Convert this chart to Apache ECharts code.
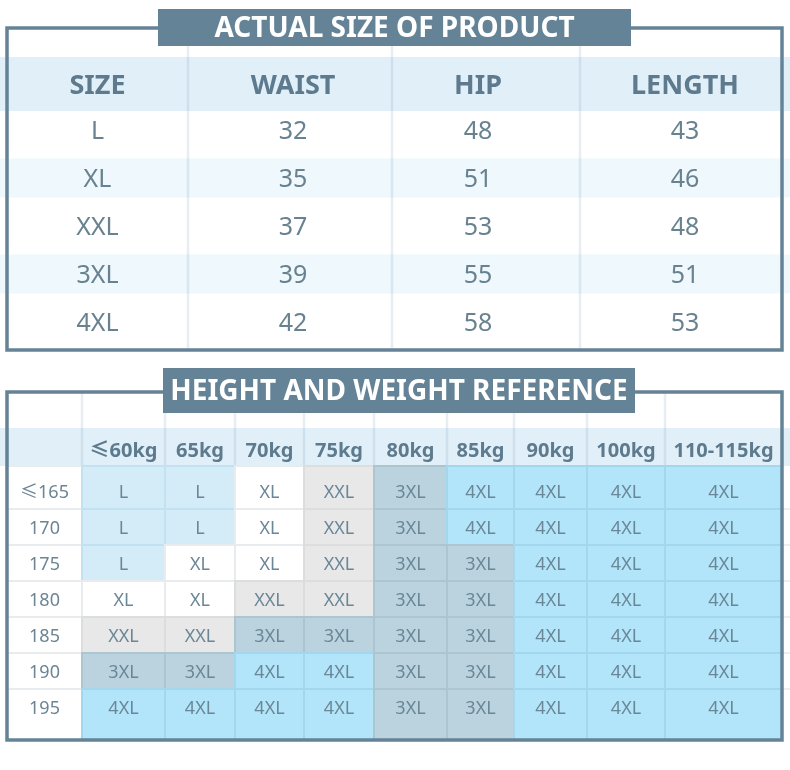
<!DOCTYPE html>
<html>
<head>
<meta charset="utf-8">
<script src="https://cdn.jsdelivr.net/npm/echarts/dist/echarts.min.js"></script>
<style>
  html, body { margin: 0; padding: 0; background: #fff; }
  #main { width: 790px; height: 770px; }
</style>
</head>
<body>
<div id="main"></div>
<script>
// ---- data ----
var sizeLabels = ['L', 'XL', 'XXL', '3XL', '4XL'];
var measureHeaders = ['SIZE', 'WAIST', 'HIP', 'LENGTH'];
var waistValues = [32, 35, 37, 39, 42];
var hipValues = [48, 51, 53, 55, 58];
var lengthValues = [43, 46, 48, 51, 53];

var weightLabels = ['≤60kg', '65kg', '70kg', '75kg', '80kg', '85kg', '90kg', '100kg', '110-115kg'];
var heightLabels = ['≤165', '170', '175', '180', '185', '190', '195'];
var sizeByHeight = [
  ['L', 'L', 'XL', 'XXL', '3XL', '4XL', '4XL', '4XL', '4XL'],
  ['L', 'L', 'XL', 'XXL', '3XL', '4XL', '4XL', '4XL', '4XL'],
  ['L', 'XL', 'XL', 'XXL', '3XL', '3XL', '4XL', '4XL', '4XL'],
  ['XL', 'XL', 'XXL', 'XXL', '3XL', '3XL', '4XL', '4XL', '4XL'],
  ['XXL', 'XXL', '3XL', '3XL', '3XL', '3XL', '4XL', '4XL', '4XL'],
  ['3XL', '3XL', '4XL', '4XL', '3XL', '3XL', '4XL', '4XL', '4XL'],
  ['4XL', '4XL', '4XL', '4XL', '3XL', '3XL', '4XL', '4XL', '4XL']
];

// ---- layout / style ----
var FONT = '"Noto Sans", "Noto Sans CJK SC", sans-serif';
var FRAME = '#658396';
var HEAD_COLOR = '#5d7a8e';
var TEXT_COLOR = '#68828f';
var TEXT_DY = 2;
var topColWidths = [181, 204, 188, 202];
var topTextShift = [0, 3, -8, 4];
var bottomColWidths = [75, 83, 70, 69, 70, 73, 67, 73, 78, 117];

// size -> [fill, line]
var cellStyle = {
  'L': ['#d4ecf8', '#c2e1f1'],
  'XL': ['#ffffff', '#e9ecee'],
  'XXL': ['#e8e8e8', '#dcdddd'],
  '3XL': ['#bbd3de', '#abc5d1'],
  '4XL': ['#b3e5fa', '#a3d7ee']
};

function edgesOf(widths) {
  var e = [0];
  for (var i = 0; i < widths.length; i++) {
    e.push(e[i] + widths[i]);
  }
  return e;
}
function mid(edges, i) {
  return (edges[i] + edges[i + 1]) / 2;
}

var topEdges = edgesOf(topColWidths);
var bottomEdges = edgesOf(bottomColWidths);

// row units: top table pitch 48px, bottom 36px
var topY = { min: -2.125, max: 4.583, headTop: -1.521, headBottom: -0.396, headText: -0.958, stripe: 0.406 };
var botY = { min: -2.75, max: 6.917, headTop: -1.75, headBottom: -0.694, headText: -1.167 };

// ---- items built from data ----
var topBands = [[topY.headTop, topY.headBottom, '#e1f0f8']];
[1, 3].forEach(function (r) {
  topBands.push([r - topY.stripe, r + topY.stripe, '#eef8fd']);
});

var topTexts = [];
measureHeaders.forEach(function (h, c) {
  topTexts.push({ x: mid(topEdges, c) + topTextShift[c], y: topY.headText, text: h, head: true });
});
sizeLabels.forEach(function (s, r) {
  var row = [s, waistValues[r], hipValues[r], lengthValues[r]];
  row.forEach(function (v, c) {
    topTexts.push({ x: mid(topEdges, c) + topTextShift[c], y: r, text: String(v), head: false });
  });
});

var botTexts = [];
weightLabels.forEach(function (w, c) {
  botTexts.push({ x: mid(bottomEdges, c + 1), y: botY.headText, text: w });
});

var cells = [];
heightLabels.forEach(function (h, r) {
  var y0 = r === 0 ? botY.headBottom : r - 0.5;
  var y1 = r === heightLabels.length - 1 ? botY.max : r + 0.5;
  cells.push({ c: 0, r: r, y0: y0, y1: y1, text: h, style: ['#ffffff', '#e9ecee'], label: true });
  sizeByHeight[r].forEach(function (s, c) {
    cells.push({ c: c + 1, r: r, y0: y0, y1: y1, text: s, style: cellStyle[s] });
  });
});

var topDividers = topEdges.slice(1, topEdges.length - 1);
var botDividers = bottomEdges.slice(1, bottomEdges.length - 1);
var rowLines = [];
for (var i = 0; i < heightLabels.length - 1; i++) rowLines.push(i + 0.5);

// ---- render functions ----
function bandRender(bands) {
  return function (params, api) {
    var b = bands[params.dataIndex];
    var y1 = api.coord([0, b[0]])[1];
    var y2 = api.coord([0, b[1]])[1];
    return {
      type: 'rect',
      shape: { x: 0, y: y1, width: api.getWidth(), height: y2 - y1 },
      style: { fill: b[2] }
    };
  };
}

function dividerRender(xs, yFrom, yTo) {
  return function (params, api) {
    var p1 = api.coord([xs[params.dataIndex], yFrom]);
    var p2 = api.coord([xs[params.dataIndex], yTo]);
    return {
      type: 'line',
      shape: { x1: p1[0], y1: p1[1], x2: p2[0], y2: p2[1] },
      style: { stroke: 'rgba(110,145,165,0.16)', lineWidth: 2.5 }
    };
  };
}

function textRender(items, headFont, bodyFont) {
  return function (params, api) {
    var t = items[params.dataIndex];
    var p = api.coord([t.x, t.y]);
    var isHead = t.head !== false;
    return {
      type: 'text',
      style: {
        x: p[0], y: p[1] + TEXT_DY, text: t.text,
        fill: isHead ? HEAD_COLOR : TEXT_COLOR,
        font: isHead ? headFont : bodyFont,
        align: 'center', verticalAlign: 'middle'
      }
    };
  };
}

function cellRender(params, api) {
  var c = cells[params.dataIndex];
  var p1 = api.coord([bottomEdges[c.c], c.y0]);
  var p2 = api.coord([bottomEdges[c.c + 1], c.y1]);
  var pt = api.coord([mid(bottomEdges, c.c), c.r]);
  return {
    type: 'group',
    children: [{
      type: 'rect',
      shape: { x: p1[0], y: p1[1], width: p2[0] - p1[0], height: p2[1] - p1[1] },
      style: { fill: c.style[0], stroke: c.style[1], lineWidth: 2 }
    }, {
      type: 'text',
      style: {
        x: pt[0], y: pt[1] + TEXT_DY, text: c.text, fill: c.label ? '#6c8595' : '#6a8797',
        font: '18px ' + FONT, align: 'center', verticalAlign: 'middle'
      }
    }]
  };
}

function rowLineRender(params, api) {
  var p = api.coord([bottomEdges[bottomEdges.length - 1], rowLines[params.dataIndex]]);
  return {
    type: 'line',
    shape: { x1: p[0], y1: p[1], x2: api.getWidth(), y2: p[1] },
    style: { stroke: '#e6eaec', lineWidth: 1.5 }
  };
}

function frameRender(title, barW, barH, barOffset, dx, fontSize) {
  return function (params, api) {
    var cs = params.coordSys;
    var cx = cs.x + cs.width / 2 + dx;
    return {
      type: 'group',
      children: [{
        type: 'rect',
        shape: { x: cs.x, y: cs.y, width: cs.width, height: cs.height },
        style: { fill: 'none', stroke: FRAME, lineWidth: 3.5 }
      }, {
        type: 'rect',
        shape: { x: cx - barW / 2, y: cs.y - barOffset, width: barW, height: barH },
        style: { fill: FRAME }
      }, {
        type: 'text',
        style: {
          x: cx, y: cs.y - barOffset + barH / 2 + TEXT_DY, text: title, fill: '#ffffff',
          font: 'bold ' + fontSize + 'px ' + FONT, align: 'center', verticalAlign: 'middle'
        }
      }]
    };
  };
}

function idx(arr) {
  return arr.map(function (v, i) { return [0, i]; });
}

var chart = echarts.init(document.getElementById('main'));

var option = {
  animation: false,
  backgroundColor: '#ffffff',
  grid: [
    { left: 7, top: 28, width: 775, height: 322 },
    { left: 7, top: 392, width: 775, height: 348 }
  ],
  xAxis: [
    { type: 'value', gridIndex: 0, min: 0, max: 775, show: false },
    { type: 'value', gridIndex: 1, min: 0, max: 775, show: false }
  ],
  yAxis: [
    { type: 'value', gridIndex: 0, min: topY.min, max: topY.max, inverse: true, show: false },
    { type: 'value', gridIndex: 1, min: botY.min, max: botY.max, inverse: true, show: false }
  ],
  series: [
    // top table
    { type: 'custom', xAxisIndex: 0, yAxisIndex: 0, z: 1, silent: true,
      data: idx(topBands), renderItem: bandRender(topBands) },
    { type: 'custom', xAxisIndex: 0, yAxisIndex: 0, z: 2, silent: true,
      data: idx(topDividers), renderItem: dividerRender(topDividers, topY.min, topY.max) },
    { type: 'custom', xAxisIndex: 0, yAxisIndex: 0, z: 3, silent: true,
      data: idx(topTexts), renderItem: textRender(topTexts, 'bold 27px ' + FONT, '25px ' + FONT) },
    { type: 'custom', xAxisIndex: 0, yAxisIndex: 0, z: 5, silent: true,
      data: [[0, 0]], renderItem: frameRender('ACTUAL SIZE OF PRODUCT', 473, 37, 19, 0, 28) },

    // bottom table
    { type: 'custom', xAxisIndex: 1, yAxisIndex: 1, z: 1, silent: true,
      data: [[0, 0]], renderItem: bandRender([[botY.headTop, botY.headBottom, '#e1f0f8']]) },
    { type: 'custom', xAxisIndex: 1, yAxisIndex: 1, z: 1, silent: true,
      data: idx(rowLines), renderItem: rowLineRender },
    { type: 'custom', xAxisIndex: 1, yAxisIndex: 1, z: 2, silent: true,
      data: idx(botDividers), renderItem: dividerRender(botDividers, botY.min, botY.headBottom) },
    { type: 'custom', xAxisIndex: 1, yAxisIndex: 1, z: 3, silent: true,
      data: idx(cells), renderItem: cellRender },
    { type: 'custom', xAxisIndex: 1, yAxisIndex: 1, z: 4, silent: true,
      data: idx(botTexts), renderItem: textRender(botTexts, 'bold 20px ' + FONT, '18px ' + FONT) },
    { type: 'custom', xAxisIndex: 1, yAxisIndex: 1, z: 5, silent: true,
      data: [[0, 0]], renderItem: frameRender('HEIGHT AND WEIGHT REFERENCE', 472, 45, 24, 4.5, 28) }
  ]
};

chart.setOption(option);
</script>
</body>
</html>
